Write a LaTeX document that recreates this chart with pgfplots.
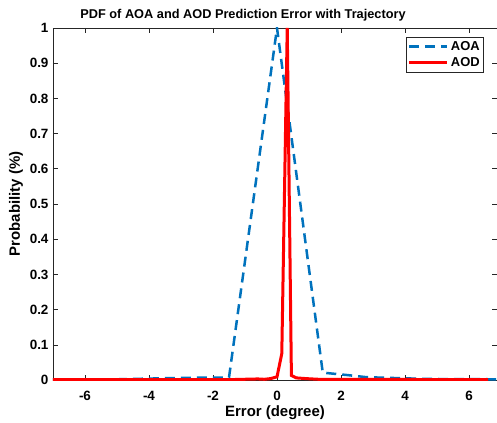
\documentclass[border=0pt]{standalone}
\usepackage{pgfplots}
\pgfplotsset{compat=1.18}
\usepackage{fontspec}
\setmainfont{Liberation Sans}

\definecolor{aoablue}{RGB}{0,114,189}
\definecolor{axisgray}{RGB}{38,38,38}

\begin{document}
\begin{tikzpicture}
\begin{axis}[
    scale only axis,
    width=444bp, height=352bp,
    xmin=-7, xmax=6.875,
    ymin=0, ymax=1,
    xtick={-6,-4,-2,0,2,4,6},
    ytick={0,0.1,0.2,0.3,0.4,0.5,0.6,0.7,0.8,0.9,1},
    yticklabels={0,0.1,0.2,0.3,0.4,0.5,0.6,0.7,0.8,0.9,1},
    tick align=inside,
    major tick length=5bp,
    axis line style={draw=axisgray, line width=0.6bp},
    tick style={draw=axisgray, line width=0.6bp},
    ticklabel style={font=\fontsize{13.5}{15}\selectfont\bfseries, text=black},
    /pgf/number format/assume math mode=true,
    xticklabel style={yshift=-8bp},
    yticklabel style={xshift=-1bp},
    xlabel={Error (degree)},
    ylabel={Probability (\%)},
    label style={font=\fontsize{15}{17}\selectfont\bfseries},
    xlabel style={at={(axis description cs:0.5,0)}, anchor=center, yshift=-33bp},
    ylabel style={at={(axis description cs:-0.0833,0.5)}, anchor=center},
    title={PDF of AOA and AOD Prediction Error with Trajectory},
    title style={font=\fontsize{12.8}{15}\selectfont\bfseries, at={(axis description cs:0.428,1)}, anchor=base, yshift=4bp},
    legend style={at={(1,1)}, anchor=north east, xshift=-13bp, yshift=-9bp,
        draw=axisgray, line width=0.6bp, font=\fontsize{13}{15}\selectfont\bfseries,
        inner sep=2bp, row sep=1.5bp},
    legend cell align=left,
    legend image code/.code={\draw[#1] (0bp,0bp) -- (38bp,0bp);},
]
% AOA: normalised histogram of prediction error
\addplot[aoablue, line width=2.5bp, dash pattern=on 10bp off 6bp] coordinates {
    (-7,0.002) (-5,0.002) (-4,0.004) (-3,0.006) (-2,0.007) (-1.5,0.007)
    (0,1)
    (1.43,0.021) (1.75,0.018) (2.2,0.014) (2.8,0.008) (3.9,0.005)
    (4.7,0.003) (6.875,0.002)
};
\addlegendentry{AOA}
% AOD
\addplot[red, line width=3bp] coordinates {
    (-7,0.001) (-3,0.001) (-1.5,0.001) (-0.6,0.003) (-0.4,0.002)
    (-0.2,0.004) (0,0.009) (0.15,0.075) (0.32,1) (0.45,0.013)
    (0.6,0.006) (0.9,0.004) (1.3,0.002) (6.6,0.001)
};
\addlegendentry{AOD}
\end{axis}
\pgfresetboundingbox
\useasboundingbox (-53bp,-43bp) rectangle (444bp,380bp);
\end{tikzpicture}
\end{document}
